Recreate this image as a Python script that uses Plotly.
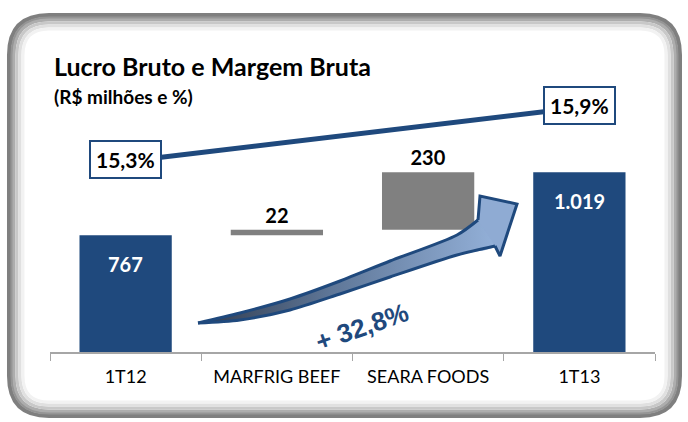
import plotly.graph_objects as go

# data
categories = ["1T12", "MARFRIG BEEF", "SEARA FOODS", "1T13"]
lucro = [767, 22, 230, 1019]
measures = ["absolute", "relative", "relative", "total"]
margem_cats = ["1T12", "1T13"]
margem = [15.3, 15.9]
growth_label = "+ 32,8%"

BLUE = "#1F497D"
GRAY = "#808080"
W, H = 688, 422
L, R, T, B = 50, 33, 90, 70


def px(X):
    return (X - L) / (W - L - R)


def py(Y):
    return (H - B - Y) / (H - T - B)


def rrect(x0, y0, x1, y1, r):
    p = lambda X, Y: f"{px(X):.5f},{py(Y):.5f}"
    return (f"M {p(x0 + r, y0)} L {p(x1 - r, y0)} Q {p(x1, y0)} {p(x1, y0 + r)} "
            f"L {p(x1, y1 - r)} Q {p(x1, y1)} {p(x1 - r, y1)} "
            f"L {p(x0 + r, y1)} Q {p(x0, y1)} {p(x0, y1 - r)} "
            f"L {p(x0, y0 + r)} Q {p(x0, y0)} {p(x0 + r, y0)} Z")


fig = go.Figure()

fig.add_trace(go.Waterfall(
    x=categories, y=lucro, measure=measures,
    width=0.61,
    totals={"marker": {"color": BLUE}},
    increasing={"marker": {"color": GRAY}},
    decreasing={"marker": {"color": GRAY}},
    connector={"visible": False},
    texttemplate="%{y:,}",
    textposition=["none", "outside", "outside", "none"],
    outsidetextfont={"family": "Lato", "size": 20, "color": "black", "weight": "bold"},
    cliponaxis=False,
    showlegend=False,
))

fig.add_trace(go.Scatter(
    x=margem_cats, y=margem, yaxis="y2", mode="lines",
    line={"color": BLUE, "width": 5}, showlegend=False,
))

# curved growth arrow (decoration, pixel coordinates on hidden overlay axes)
shaft_lo_x = [198, 240, 290, 340, 390, 457, 495]
shaft_lo_y = [323, 320, 310, 294, 277, 255, 246]
shaft_up_x = [478, 457, 390, 340, 290, 240, 198]
shaft_up_y = [220, 235, 261, 281, 299, 313, 323]
head_x = [495, 500, 517, 480, 478]
head_y = [246, 256, 204, 196, 220]
grad = {"type": "horizontal",
        "colorscale": [[0, "#2f3a4d"], [0.45, "#5f7798"], [1, "#93b0d8"]]}
# shaft: smooth fill, no outline
fig.add_trace(go.Scatter(
    x=shaft_lo_x + [490, 484] + shaft_up_x, y=shaft_lo_y + [230, 226] + shaft_up_y,
    xaxis="x3", yaxis="y3", mode="lines", fill="toself", fillgradient=grad,
    line={"color": "rgba(0,0,0,0)", "width": 0, "shape": "spline", "smoothing": 0.8},
    showlegend=False, hoverinfo="skip",
))
# head: straight fill
fig.add_trace(go.Scatter(
    x=head_x, y=head_y, xaxis="x3", yaxis="y3", mode="lines", fill="toself",
    fillcolor="#8fabd3", line={"width": 0, "color": "rgba(0,0,0,0)"},
    showlegend=False, hoverinfo="skip",
))
# outlines
for xs, ys, shp in [(shaft_lo_x, shaft_lo_y, "spline"), (shaft_up_x, shaft_up_y, "spline"),
                    (head_x, head_y, "linear")]:
    fig.add_trace(go.Scatter(
        x=xs, y=ys, xaxis="x3", yaxis="y3", mode="lines",
        line={"color": BLUE, "width": 3, "shape": shp, "smoothing": 0.8},
        showlegend=False, hoverinfo="skip",
    ))

annotations = []
# inside labels for totals
for cat, v in [(categories[0], lucro[0]), (categories[3], lucro[3])]:
    annotations.append(dict(
        x=cat, y=v, xref="x", yref="y", yshift=-29, showarrow=False,
        text=f"{v:,}".replace(",", "."),
        font={"family": "Lato", "size": 20, "color": "white", "weight": "bold"},
    ))
for cat, v in zip(margem_cats, margem):
    annotations.append(dict(
        x=cat, y=v, xref="x", yref="y2", showarrow=False, yshift=2,
        text=f"<b>{v:.1f}%</b>".replace(".", ","),
        font={"family": "Lato", "size": 21, "color": "black"},
        bgcolor="white", bordercolor=BLUE, borderwidth=2, borderpad=5,
    ))
annotations += [
    dict(x=px(52), y=py(66), xref="paper", yref="paper", xanchor="left", yanchor="middle",
         showarrow=False, text="<b>Lucro Bruto e Margem Bruta</b>",
         font={"family": "Lato", "size": 25, "color": "black"}),
    dict(x=px(52), y=py(96), xref="paper", yref="paper", xanchor="left", yanchor="middle",
         showarrow=False, text="<b>(R$ milhões e %)</b>",
         font={"family": "Lato", "size": 19, "color": "black"}),
    dict(x=px(362), y=py(327), xref="paper", yref="paper", xanchor="center", yanchor="middle",
         showarrow=False, text=f"<b>{growth_label}</b>", textangle=-19,
         font={"family": "Liberation Sans", "size": 26, "color": BLUE}),
]

# rounded frame with soft inner shading
frame = [(0, "#7f7f7f", 4), (3, "#959595", 3), (5, "#adadad", 3), (8, "#c8c8c8", 3),
         (11, "#e0e0e0", 3), (14, "#f2f2f2", 3)]
shapes = [dict(type="path", xref="paper", yref="paper",
               path=rrect(9 + d, 15 + d, 680 - d, 416 - d, max(40 - d, 8)),
               line={"color": c, "width": w}, layer="below")
          for d, c, w in frame]

fig.update_layout(
    width=W, height=H,
    margin={"l": L, "r": R, "t": T, "b": B},
    paper_bgcolor="white", plot_bgcolor="rgba(0,0,0,0)",
    separators=",.",
    xaxis={"type": "category", "showline": True, "linecolor": "#a6a6a6", "linewidth": 1.5,
           "ticks": "outside", "tickson": "boundaries", "ticklen": 7, "tickcolor": "#a6a6a6",
           "ticklabelstandoff": 8, "showgrid": False,
           "tickfont": {"family": "Lato", "size": 18, "color": "black"}},
    yaxis={"range": [300, 300 + (H - T - B) / 0.25], "visible": False, "showgrid": False},
    yaxis2={"overlaying": "y", "range": [13.183, 13.183 + (H - T - B) / 90], "visible": False},
    xaxis3={"overlaying": "x", "range": [L, W - R], "visible": False},
    yaxis3={"overlaying": "y", "range": [H - B, T], "visible": False},
    annotations=annotations,
    shapes=shapes,
)

fig.write_html("out.html", config={"displayModeBar": False},
               post_script="document.body.style.margin='0';")
